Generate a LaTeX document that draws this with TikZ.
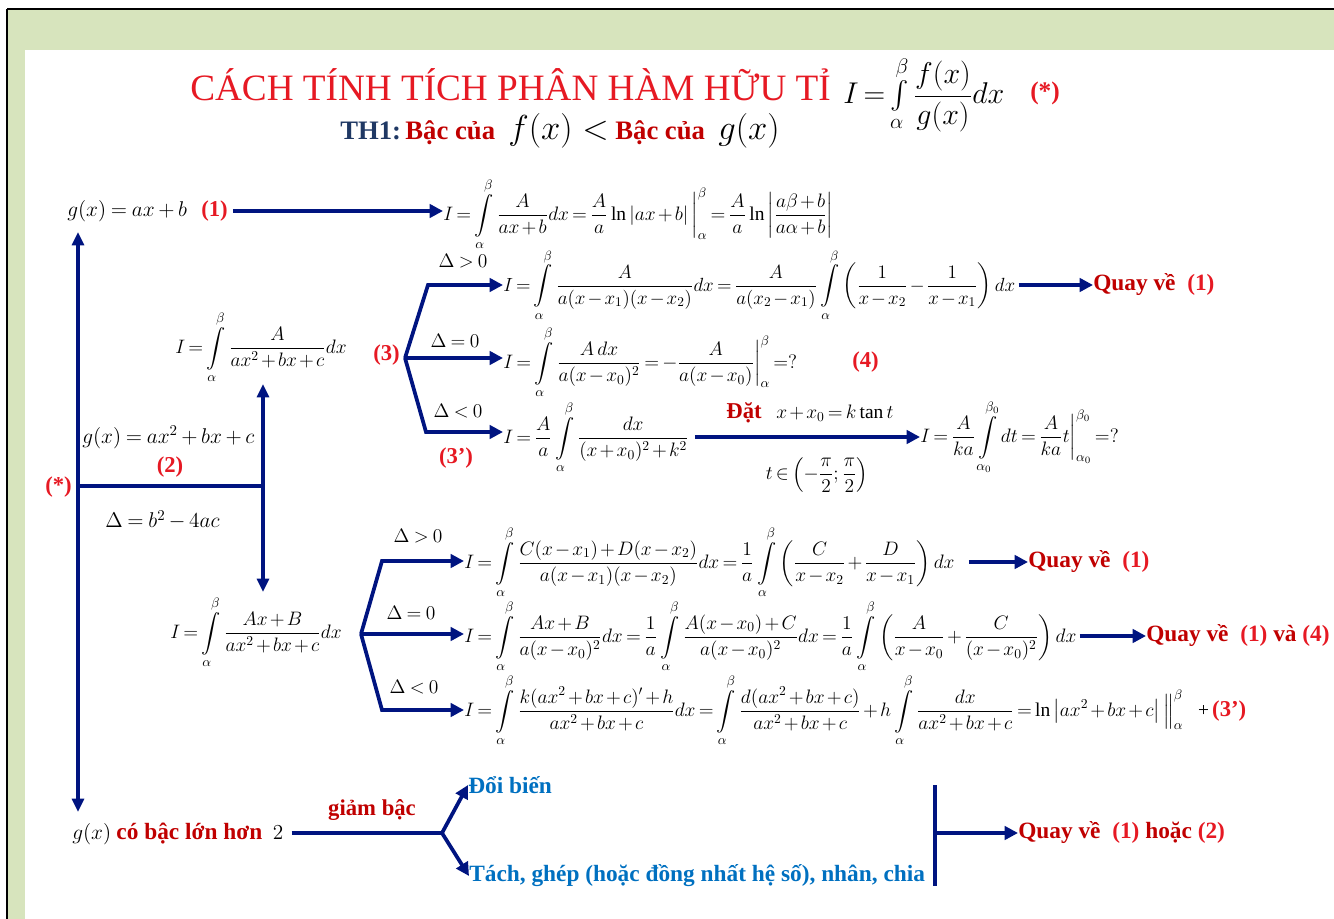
\RequirePackage{fix-cm}
\documentclass[tikz,border=0pt]{standalone}
\usepackage{amsmath}
\usepackage{fontspec}
\setmainfont{Liberation Serif}
\usetikzlibrary{arrows.meta, positioning, calc}
\definecolor{nenxanh}{RGB}{215,228,189}
\definecolor{xanhmuiten}{RGB}{0,20,128}
\definecolor{dotuoi}{RGB}{230,25,35}
\definecolor{dodam}{RGB}{192,0,0}
\definecolor{xanhchu}{RGB}{0,112,192}
\definecolor{xanhth}{RGB}{31,56,100}
\newcommand{\chattay}{\medmuskip=2mu\relax\thickmuskip=3mu\relax}
\newcommand{\vuaphai}{\medmuskip=3mu\relax\thickmuskip=4mu\relax}
\tikzset{
  muiten/.style={
    -{Triangle[length=10pt,width=10pt]},
    line width=2.8pt,
    draw=xanhmuiten
  },
  haidau/.style={
    {Triangle[length=10pt,width=9pt]}-{Triangle[length=10pt,width=9pt]},
    line width=2.3pt,
    draw=xanhmuiten
  },
  duongke/.style={
    line width=2.8pt,
    draw=xanhmuiten
  },
  congthuc/.style={
    inner sep=0pt,
    anchor=west,
    font=\fontsize{14.6}{16}\selectfont\chattay
  },
  bienso/.style={
    inner sep=0pt,
    anchor=west,
    font=\fontsize{16}{19}\selectfont\vuaphai
  },
  dieukien/.style={
    inner sep=0pt,
    anchor=center,
    font=\fontsize{14.6}{17}\selectfont\vuaphai
  },
  nhando/.style={
    inner sep=0pt,
    anchor=west,
    text=dotuoi,
    font=\fontsize{17}{20}\selectfont\bfseries
  },
  quayve/.style={
    inner sep=0pt,
    anchor=west,
    text=dodam,
    font=\fontsize{17.5}{20}\selectfont\bfseries
  },
  chuxanh/.style={
    inner sep=0pt,
    anchor=west,
    text=xanhchu,
    font=\fontsize{17.5}{20}\selectfont\bfseries
  }
}
\newcommand{\tp}{\int\limits_{\alpha}^{\beta}}
\newcommand{\so}[1]{\textcolor{dotuoi}{\bfseries #1}}

\begin{document}
\begin{tikzpicture}[x=0.75pt, y=-0.75pt]
  \useasboundingbox (0,0) rectangle (1334,919);
  % khung nen
  \fill[nenxanh] (8,10) rectangle (1334,50);
  \fill[nenxanh] (8,10) rectangle (25,919);
  \draw[line width=2.2pt] (7,9) -- (1334,9);
  \draw[line width=1.1pt] (7,9) -- (7,919);

  % tieu de
  \node[inner sep=0pt, anchor=base west, text=dotuoi, font=\fontsize{27.9}{30}\selectfont] (tieude) at (190,101) {CÁCH TÍNH TÍCH PHÂN HÀM HỮU TỈ};
  \node[inner sep=0pt, anchor=west, font=\fontsize{22.5}{26}\selectfont\chattay] (tpchinh) at (843,94) {$I=\int\limits_{\alpha}^{\beta}\dfrac{f(x)}{g(x)}dx$};
  \node[nhando, font=\fontsize{19}{22}\selectfont\bfseries] (sao0) at (1030,93) {(*)};
  \node[inner sep=0pt, anchor=base west, font=\fontsize{20}{23}\selectfont\bfseries] (th1) at (340,140)
    {\textcolor{xanhth}{TH1:}\,\textcolor{dodam}{Bậc của}\ \ {\fontsize{26}{29}\selectfont$f(x)<$}\ \textcolor{dodam}{Bậc của}\ \ {\fontsize{26}{29}\selectfont$g(x)$}};

  % g(x) bac 1
  \node[bienso] (g1) at (67,211) {$g(x)=ax+b$};
  \node[nhando] (so1) at (201,211) {(1)};
  \node[congthuc] (I1) at (443,214) {$I=\displaystyle\tp\frac{A}{ax+b}dx=\frac{A}{a}\ln\left|ax+b\right|\bigg|_{\alpha}^{\beta}=\frac{A}{a}\ln\left|\frac{a\beta+b}{a\alpha+b}\right|$};
  \draw[muiten] (so1.east) ++(5,0) -- (so1.east -| I1.west);

  % truc trai
  \coordinate (saotruc) at (78,486);
  \coordinate (nhanh2) at (263,486);
  \draw[haidau] (78,232) -- (78,812);
  \node[nhando, anchor=east] (sao) at (72,487) {(*)};
  \draw[duongke] (saotruc) -- (nhanh2);
  \draw[haidau] (263,384) -- (263,592);
  \node[bienso] (g2) at (82,437) {$g(x)=ax^2+bx+c$};
  \node[nhando, anchor=center] (so2) at (170,467) {(2)};
  \node[bienso] (delta) at (105,520) {$\Delta=b^2-4ac$};

  % I = A/(ax^2+bx+c)
  \node[congthuc] (I3) at (175,347) {$I=\displaystyle\tp\frac{A}{ax^2+bx+c}dx$};
  \node[nhando] (so3) at (373,355) {(3)};
  \coordinate (re3) at (405,358);
  \coordinate (len3) at (428,285);
  \coordinate (xuong3) at (426,432);
  \node[congthuc, font=\fontsize{14.3}{16}\selectfont\chattay] (I3a) at (503,285) {$I=\displaystyle\tp\frac{A}{a(x-x_1)(x-x_2)}dx=\frac{A}{a(x_2-x_1)}\tp\left(\frac{1}{x-x_2}-\frac{1}{x-x_1}\right)dx$};
  \node[congthuc] (I3b) at (503,362) {$I=\displaystyle\tp\frac{A\,dx}{a(x-x_0)^2}=-\frac{A}{a(x-x_0)}\bigg|_{\alpha}^{\beta}=?$};
  \node[nhando] (so4) at (852,362) {(4)};
  \node[congthuc] (I3c) at (503,437) {$I=\dfrac{A}{a}\displaystyle\tp\frac{dx}{(x+x_0)^2+k^2}$};
  \draw[muiten] (re3) -- (len3) -- (len3 -| I3a.west);
  \draw[muiten] (re3) -- (re3 -| I3b.west);
  \draw[muiten] (re3) -- (xuong3) -- (xuong3 -| I3c.west);
  \node[dieukien] at (463,261) {$\Delta>0$};
  \node[dieukien] at (455,341) {$\Delta=0$};
  \node[dieukien] at (458,411) {$\Delta<0$};
  \node[nhando, anchor=center] (so3p) at (456,458) {(3')};
  \node[quayve] (qv1) at (1093,285) {Quay về\ \ \so{(1)}};
  \draw[muiten] (I3a.east) ++(3,0) -- (qv1.west);

  % doi bien t
  \node[congthuc] (I3d) at (920,437) {$I=\dfrac{A}{ka}\displaystyle\int\limits_{\alpha_0}^{\beta_0}dt=\frac{A}{ka}t\bigg|_{\alpha_0}^{\beta_0}=?$};
  \draw[muiten] (I3c.east) ++(6,0) -- (I3d.west);
  \node[congthuc, anchor=center] (dat) at (810,413) {\textcolor{dodam}{\fontsize{17}{20}\selectfont\bfseries Đặt}\ \ \ $x+x_0=k\tan t$};
  \node[congthuc, anchor=center] (khoang) at (817,475) {$t\in\left(-\dfrac{\pi}{2};\dfrac{\pi}{2}\right)$};

  % I = (Ax+B)/(ax^2+bx+c)
  \node[congthuc] (I5) at (170,632) {$I=\displaystyle\tp\frac{Ax+B}{ax^2+bx+c}dx$};
  \coordinate (re5) at (361,634);
  \coordinate (len5) at (382,561);
  \coordinate (xuong5) at (382,710);
  \node[congthuc] (I5a) at (464,562) {$I=\displaystyle\tp\frac{C(x-x_1)+D(x-x_2)}{a(x-x_1)(x-x_2)}dx=\frac{1}{a}\tp\left(\frac{C}{x-x_2}+\frac{D}{x-x_1}\right)dx$};
  \node[congthuc] (I5b) at (464,636) {$I=\displaystyle\tp\frac{Ax+B}{a(x-x_0)^2}dx=\frac{1}{a}\tp\frac{A(x-x_0)+C}{a(x-x_0)^2}dx=\frac{1}{a}\tp\left(\frac{A}{x-x_0}+\frac{C}{(x-x_0)^2}\right)dx$};
  \node[congthuc] (I5c) at (464,710) {$I=\displaystyle\tp\frac{k(ax^2+bx+c)'+h}{ax^2+bx+c}dx=\tp\frac{d(ax^2+bx+c)}{ax^2+bx+c}+h\tp\frac{dx}{ax^2+bx+c}=\ln\left|ax^2+bx+c\right|\Big\|_{\alpha}^{\beta}$\ \ \ +\,\so{\fontsize{17}{20}\selectfont(3')}};
  \draw[muiten] (re5) -- (len5) -- (len5 -| I5a.west);
  \draw[muiten] (re5) -- (re5 -| I5b.west);
  \draw[muiten] (re5) -- (xuong5) -- (xuong5 -| I5c.west);
  \node[dieukien] at (418,536) {$\Delta>0$};
  \node[dieukien] at (411,613) {$\Delta=0$};
  \node[dieukien] at (414,687) {$\Delta<0$};
  \node[quayve] (qv2) at (1028,562) {Quay về\ \ \so{(1)}};
  \draw[muiten] (I5a.east) ++(14,0) -- (qv2.west);
  \node[quayve] (qv3) at (1146,636) {Quay về\ \ \so{(1)} và \so{(4)}};
  \draw[muiten] (I5b.east) ++(3,0) -- (qv3.west);

  % g(x) bac lon hon 2
  \node[bienso, anchor=base west] (g3) at (72,839) {$g(x)$\ {\fontsize{17.5}{20}\selectfont\color{dodam}\bfseries có bậc lớn hơn}\ \ $2$};
  \coordinate (re6) at (442,833);
  \node[nhando, text=dodam, anchor=center] (giam) at (372,810) {giảm bậc};
  \node[chuxanh] (doibien) at (468,785) {Đổi biến};
  \node[chuxanh] (tach) at (469,876) {Tách, ghép (hoặc đồng nhất hệ số), nhân, chia};
  \draw[duongke] (g3.east |- re6) ++(8,0) -- (re6);
  \draw[muiten] (re6) -- (doibien.west);
  \draw[muiten] (re6) -- (tach.west);
  \coordinate (ghep) at (935,833);
  \draw[duongke] (935,785) -- (935,886);
  \node[quayve] (qv4) at (1018,833) {Quay về\ \ \so{(1)} hoặc \so{(2)}};
  \draw[muiten] (ghep) -- (qv4.west);
\end{tikzpicture}
\end{document}
